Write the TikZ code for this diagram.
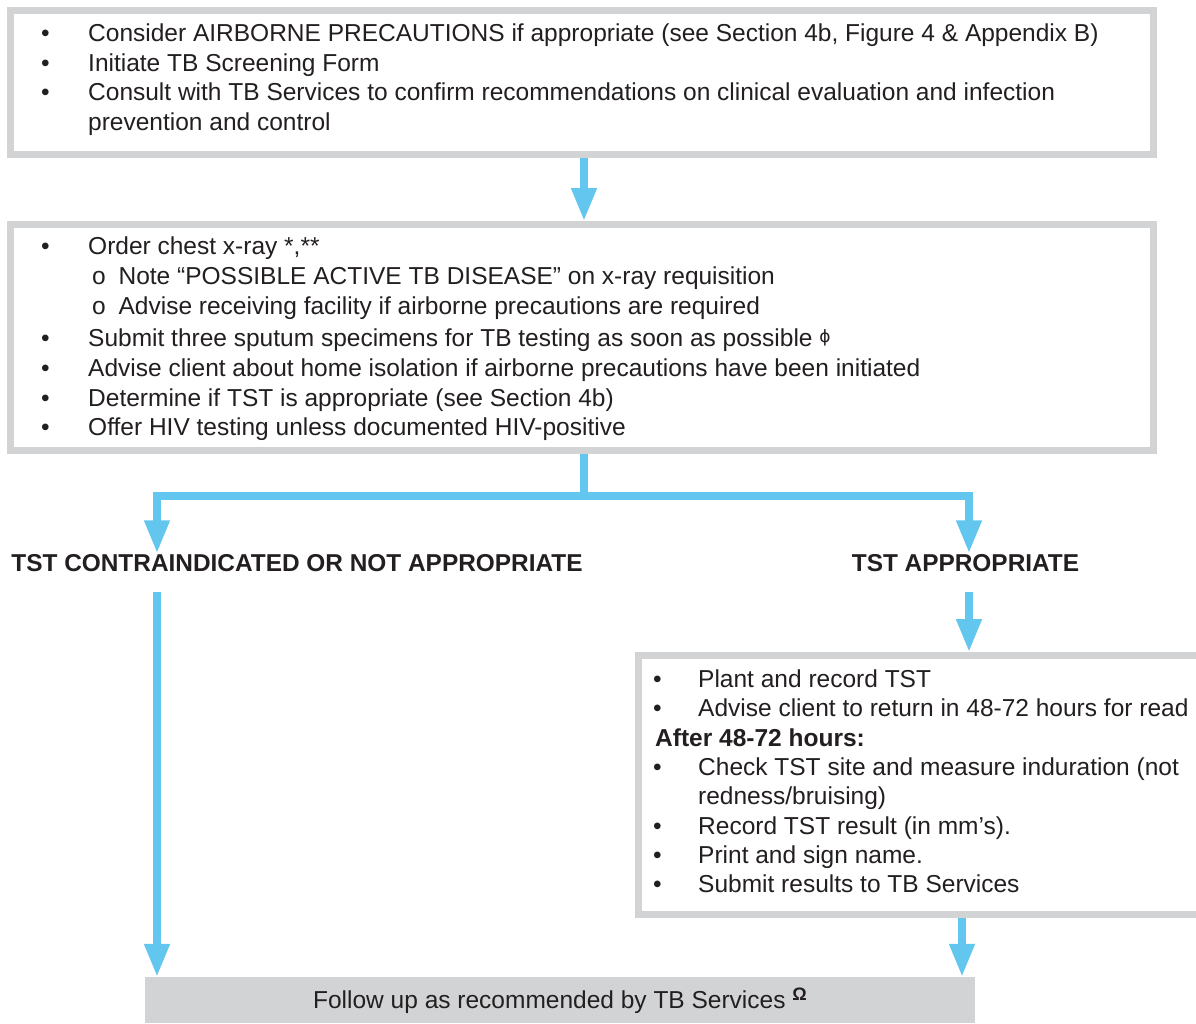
\documentclass[tikz,border=0pt]{standalone}
\usepackage{fontspec}
\setmainfont{Liberation Sans}
\newfontfamily\djv{DejaVu Sans}
\usetikzlibrary{arrows.meta}
\definecolor{boxgray}{HTML}{D1D3D4}
\definecolor{flowblue}{HTML}{63C6EF}
\definecolor{ink}{HTML}{231F20}
\begin{document}
\begin{tikzpicture}[x=1pt,y=-1pt,
  box/.style={draw=boxgray, line width=7pt, outer sep=3.5pt, fill=white, rectangle, inner sep=0pt},
  conn/.style={draw=flowblue, line width=7.5pt, -{Triangle[width=24pt,length=33pt]}},
  body/.style={anchor=base west, inner sep=0pt, text=ink},
  lbl/.style={inner sep=1pt, text=ink, font=\fontsize{24.4}{28}\selectfont\bfseries}]
\path[use as bounding box] (0,0) rectangle (1196,1023);
\clip (0,0) rectangle (1196,1023);

% boxes
\node[box, minimum width=1143pt, minimum height=144pt] (b1) at (582,82.5) {};
\node[box, minimum width=1143pt, minimum height=226pt] (b2) at (582,337.5) {};
\node[box, minimum width=572pt, minimum height=259pt] (b3) at (924,785) {};
\node[fill=boxgray, minimum width=830pt, minimum height=46pt, inner sep=0pt, text=ink,
      text height=17.5pt, text depth=1.5pt,
      font=\fontsize{24.5}{29}\selectfont] (fu) at (560,1000)
  {Follow up as recommended by TB Services \raisebox{7.5pt}{\fontsize{18}{18}\selectfont\bfseries Ω}};

% box texts
\node[body, font=\fontsize{24.5}{29.7}\selectfont] (t1) at (41,41.5) {\begin{tabular}[t]{@{}p{47pt}@{}l@{}}
\textbullet & Consider AIRBORNE PRECAUTIONS if appropriate (see Section 4b, Figure 4 \& Appendix B)\\
\textbullet & Initiate TB Screening Form\\
\textbullet & Consult with TB Services to confirm recommendations on clinical evaluation and infection\\
 & prevention and control
\end{tabular}};

\node[body, font=\fontsize{24.5}{30}\selectfont] (t2) at (41,254.5) {\begin{tabular}[t]{@{}p{47pt}@{}l@{}}
\textbullet & Order chest x-ray *,**\\
 & \hspace{4pt}o\hspace{6pt} Note “POSSIBLE ACTIVE TB DISEASE” on x-ray requisition\\
 & \hspace{4pt}o\hspace{6pt} Advise receiving facility if airborne precautions are required\\[2pt]
\textbullet & Submit three sputum specimens for TB testing as soon as possible \raisebox{4pt}{\fontsize{17}{17}\selectfont\djv ϕ}\\
\textbullet & Advise client about home isolation if airborne precautions have been initiated\\
\textbullet & Determine if TST is appropriate (see Section 4b)\\[-1pt]
\textbullet & Offer HIV testing unless documented HIV-positive
\end{tabular}};

\node[body, font=\fontsize{24.5}{29.3}\selectfont] (t3) at (653,687.5) {\begin{tabular}[t]{@{}p{45pt}@{}l@{}}
\textbullet & Plant and record TST\\
\textbullet & Advise client to return in 48-72 hours for read\\
\multicolumn{2}{@{}l@{}}{\hspace{2pt}\bfseries After 48-72 hours:}\\
\textbullet & Check TST site and measure induration (not\\
 & redness/bruising)\\
\textbullet & Record TST result (in mm’s).\\
\textbullet & Print and sign name.\\
\textbullet & Submit results to TB Services
\end{tabular}};

% labels
\node[lbl, anchor=base] (lc) at (297,571.5) {TST CONTRAINDICATED OR NOT APPROPRIATE};
\node[lbl, anchor=base] (la) at (965.5,571.5) {TST APPROPRIATE};

% helper coordinates
\coordinate (xm) at (584,0);
\coordinate (yb) at (0,496);
\coordinate (xl) at (157,0);
\coordinate (xr) at (969,0);
\coordinate (xb) at (962,0);

% connectors
\draw[conn] (b1.south -| xm) -- (b2.north -| xm);
\draw[conn] (b2.south -| xm) -- (xm |- yb) -| (lc.north -| xl);
\draw[conn] (b2.south -| xm) -- (xm |- yb) -| (la.north -| xr);
\draw[conn, shorten <=19pt] (lc.south -| xl) -- (fu.north -| xl);
\draw[conn, shorten <=19pt] (la.south -| xr) -- (b3.north -| xr);
\draw[conn] (b3.south -| xb) -- (fu.north -| xb);
\end{tikzpicture}
\end{document}
